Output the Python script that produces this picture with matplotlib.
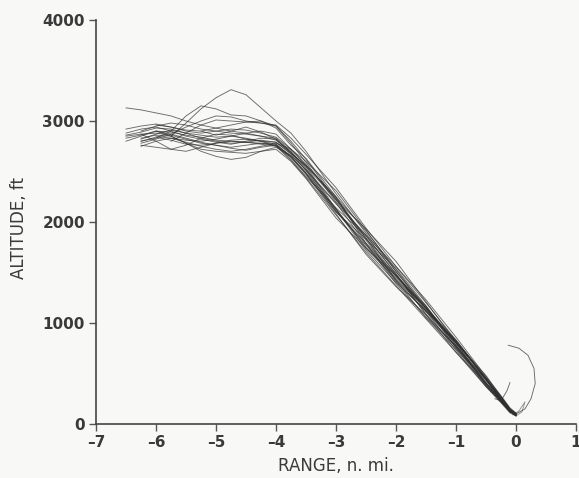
import numpy as np
import matplotlib
matplotlib.use("Agg")
import matplotlib.pyplot as plt

# range grid shared by all approach tracks (n. mi. from threshold)
range_grid = [-6.5, -6.25, -6.0, -5.75, -5.5, -5.25, -5.0, -4.75, -4.5, -4.25,
              -4.0, -3.75, -3.5, -3.0, -2.5, -2.0, -1.5, -1.0, -0.5, -0.25, -0.1, 0.0]

# altitude (ft) of each recorded approach on the grid; None = not yet tracked
tracks = [
    [None, None, None, 2850, 2980, 3120, 3230, 3310, 3260, 3130, 3000, 2880, 2700, 2280, 1890, 1510, 1160, 810, 440, 260, 150, 100],
    [3130, 3110, 3080, 3050, 3000, 2960, 2930, 2900, 2880, 2850, 2810, 2690, 2550, 2130, 1740, 1430, 1150, 800, 390, 220, 120, 90],
    [None, 2800, 2830, 2900, 3050, 3150, 3120, 3060, 3050, 3000, 2930, 2760, 2630, 2250, 1790, 1410, 1120, 830, 440, 250, 140, 100],
    [None, None, 2900, 2850, 2780, 2700, 2650, 2620, 2640, 2700, 2720, 2600, 2430, 2040, 1740, 1470, 1170, 780, 380, 220, 120, 80],
    [None, 2820, 2870, 2910, 2880, 2830, 2800, 2780, 2790, 2810, 2790, 2680, 2560, 2240, 1840, 1420, 1050, 740, 430, 240, 130, 90],
    [2860, 2890, 2930, 2920, 2880, 2860, 2840, 2850, 2830, 2800, 2770, 2650, 2480, 2100, 1830, 1540, 1170, 750, 380, 230, 140, 100],
    [2800, 2850, 2900, 2870, 2830, 2790, 2760, 2740, 2760, 2780, 2760, 2620, 2450, 2140, 1860, 1490, 1080, 710, 400, 230, 120, 90],
    [None, 2750, 2800, 2830, 2790, 2750, 2720, 2700, 2720, 2750, 2780, 2720, 2600, 2310, 1920, 1510, 1130, 810, 480, 270, 140, 100],
    [None, 2900, 2950, 2980, 2960, 2920, 2900, 2880, 2870, 2850, 2830, 2700, 2530, 2120, 1720, 1400, 1120, 820, 450, 240, 130, 90],
    [None, None, 2850, 2830, 2810, 2800, 2820, 2850, 2880, 2900, 2870, 2720, 2560, 2250, 1910, 1530, 1140, 760, 400, 240, 130, 90],
    [2880, 2920, 2940, 2900, 2850, 2820, 2790, 2770, 2800, 2830, 2820, 2690, 2510, 2110, 1770, 1470, 1150, 780, 400, 230, 130, 90],
    [None, 2780, 2820, 2870, 2940, 3000, 3050, 3040, 3000, 2980, 2950, 2800, 2620, 2220, 1930, 1610, 1210, 810, 450, 270, 150, 100],
    [None, None, None, 2800, 2880, 2960, 3010, 3000, 2990, 2980, 2960, 2830, 2670, 2340, 1940, 1560, 1230, 860, 470, 280, 160, 110],
    [2850, 2870, 2880, 2860, 2820, 2780, 2760, 2730, 2710, 2740, 2760, 2640, 2470, 2080, 1680, 1360, 1080, 770, 410, 240, 130, 90],
    [None, 2830, 2860, 2850, 2780, 2720, 2700, 2690, 2680, 2700, 2740, 2660, 2520, 2190, 1780, 1390, 1060, 770, 440, 250, 140, 90],
    [None, None, 2960, 2940, 2910, 2900, 2930, 2960, 2990, 3000, 2950, 2780, 2590, 2200, 1870, 1560, 1200, 830, 460, 270, 150, 100],
    [None, 2760, 2740, 2720, 2700, 2740, 2780, 2800, 2790, 2770, 2750, 2640, 2480, 2100, 1790, 1480, 1120, 730, 370, 220, 120, 80],
    [None, 2870, 2800, 2720, 2760, 2830, 2870, 2860, 2820, 2800, 2790, 2670, 2510, 2180, 1870, 1480, 1090, 760, 440, 240, 130, 90],
    [2830, 2860, 2900, 2890, 2860, 2840, 2810, 2800, 2790, 2780, 2770, 2650, 2490, 2130, 1750, 1450, 1150, 800, 410, 240, 130, 90],
    [None, None, None, None, None, 2900, 2860, 2900, 2940, 2890, 2820, 2680, 2550, 2220, 1820, 1430, 1110, 800, 460, 250, 140, 100],
    [None, 2800, 2840, 2810, 2770, 2760, 2780, 2810, 2820, 2800, 2750, 2610, 2440, 2070, 1700, 1370, 1040, 710, 370, 210, 110, 80],
    [2920, 2950, 2970, 2940, 2900, 2880, 2900, 2920, 2910, 2880, 2840, 2720, 2570, 2230, 1840, 1460, 1150, 830, 440, 260, 140, 100],
]

# go-around that climbs away past the threshold
hook_range = [0.0, 0.15, 0.25, 0.32, 0.3, 0.2, 0.05, -0.13]
hook_alt = [100, 150, 250, 400, 550, 680, 750, 780]

# short pull-up just before the threshold
pullup_range = [-0.35, -0.25, -0.15, -0.1]
pullup_alt = [250, 230, 330, 410]

# touchdown scatter just past zero
flare_range = [-0.05, 0.05, 0.15, 0.1, 0.0]
flare_alt = [90, 130, 220, 120, 80]

text_col = "#3a3a3a"
line_col = "#2e2e2e"
bg_col = "#f8f8f6"

fig = plt.figure(figsize=(5.79, 4.78), dpi=100, facecolor=bg_col)
ax = fig.add_axes([96 / 579, 1 - 424 / 478, 480 / 579, 404 / 478])
ax.set_facecolor(bg_col)

x = np.array(range_grid)
for alt in tracks:
    y = np.array([np.nan if v is None else v for v in alt], dtype=float)
    ax.plot(x, y, color=line_col, lw=0.65, alpha=0.7)

ax.plot(hook_range, hook_alt, color=line_col, lw=0.65, alpha=0.7)
ax.plot(pullup_range, pullup_alt, color=line_col, lw=0.65, alpha=0.7)
ax.plot(flare_range, flare_alt, color=line_col, lw=0.65, alpha=0.5)

ax.set_xlim(-7, 1)
ax.set_ylim(0, 4000)
ax.set_xticks(range(-7, 2))
ax.set_xticklabels([f"\u2013{abs(v)}" if v < 0 else str(v) for v in range(-7, 2)])
ax.set_yticks([0, 1000, 2000, 3000, 4000])

for side in ("top", "right"):
    ax.spines[side].set_visible(False)
for side in ("left", "bottom"):
    ax.spines[side].set_color("#444444")
    ax.spines[side].set_linewidth(1.2)

ax.tick_params(direction="out", length=5, width=1.0, color="#555555",
               labelsize=11, labelcolor=text_col, pad=3)
for lab in ax.get_xticklabels() + ax.get_yticklabels():
    lab.set_fontfamily("DejaVu Sans")
    lab.set_fontweight("bold")

fig.text(336 / 579, 1 - 466 / 478, "RANGE, n. mi.", ha="center", va="center",
         fontsize=12, color=text_col, family="DejaVu Sans")
fig.text(19 / 579, 1 - 228 / 478, "ALTITUDE, ft", ha="center", va="center",
         rotation=90, fontsize=12, color=text_col, family="DejaVu Sans")

fig.savefig("out.png", dpi=100, facecolor=fig.get_facecolor())
